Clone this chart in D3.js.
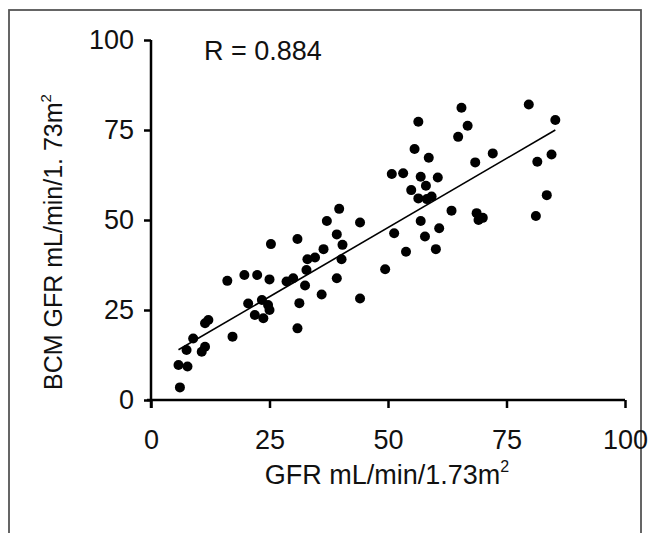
<!DOCTYPE html>
<html><head><meta charset="utf-8">
<script src="https://cdn.jsdelivr.net/npm/d3@7"></script>
<style>
html,body{margin:0;padding:0;background:#fff;}
svg{display:block;}
text{font-family:"Liberation Sans",Arial,sans-serif;fill:#111;}
</style></head>
<body>
<script>
const gfr = [6.1,5.8,7.7,7.5,8.9,10.7,11.4,11.4,12.1,17.2,16.1,19.7,22.4,25.0,20.5,21.9,23.7,23.4,24.7,25.0,25.3,28.6,30.0,30.9,31.3,30.9,32.5,32.8,33.0,34.6,36.4,36.0,37.1,39.7,39.2,40.4,40.2,39.2,44.1,44.1,49.4,50.8,53.2,51.3,53.8,54.9,55.6,56.4,56.4,56.9,56.9,57.8,58.0,58.2,59.2,58.6,60.5,60.8,60.1,63.4,64.8,65.5,66.8,68.4,68.7,70.0,69.1,72.1,79.7,85.3,84.5,81.5,83.5,81.2];
const bcm = [3.5,9.7,9.3,13.9,17.1,13.4,14.8,21.3,22.2,17.6,33.1,34.7,34.7,33.5,26.8,23.6,22.7,27.8,26.4,25.0,43.3,32.9,33.8,44.7,26.9,19.9,31.8,36.1,39.1,39.6,41.9,29.3,49.7,53.1,46.0,43.1,39.1,33.8,49.3,28.2,36.3,62.8,63.0,46.3,41.2,58.3,69.7,77.3,56.0,62.0,49.7,45.4,59.5,55.8,56.5,67.3,61.8,47.7,41.9,52.6,73.1,81.2,76.2,66.0,51.9,50.6,50.0,68.5,82.1,77.8,68.2,66.2,56.9,51.1];
const xTicks = [0,25,50,75,100];
const yTicks = [0,25,50,75,100];
const fitRange = [5.8, 85.3];
const fitSlope = 0.768;
const fitIntercept = 9.5;
const rLabel = "R = 0.884";

const W = 653, H = 533;
const svg = d3.select("body").append("svg").attr("width", W).attr("height", H);

// frame
svg.append("rect").attr("x",9).attr("y",10).attr("width",632).attr("height",560)
  .attr("fill","none").attr("stroke","#555").attr("stroke-width",1.8);

const x = d3.scaleLinear().domain([0,100]).range([151,625]);
const y = d3.scaleLinear().domain([0,100]).range([400,40]);

const fs = 27;

// x axis
const xAxis = svg.append("g").attr("transform","translate(0,400)")
  .call(d3.axisBottom(x).tickValues(xTicks).tickSize(8).tickPadding(22).tickFormat(d3.format("d")));
xAxis.select(".domain").attr("stroke","#000").attr("stroke-width",2.5).attr("d","M"+(x(0)-4)+",0H"+x(100));
xAxis.selectAll(".tick line").attr("stroke","#000").attr("stroke-width",2.5);
xAxis.selectAll(".tick text").attr("font-size",fs).attr("font-family","Liberation Sans, Arial, sans-serif").attr("fill","#111");

// y axis
const yAxis = svg.append("g").attr("transform","translate(151,0)")
  .call(d3.axisLeft(y).tickValues(yTicks).tickSize(7).tickPadding(10).tickFormat(d3.format("d")));
yAxis.select(".domain").attr("stroke","#000").attr("stroke-width",2.5).attr("d","M0,"+y(100)+"V"+(y(0)+8));
yAxis.selectAll(".tick line").attr("stroke","#000").attr("stroke-width",2.5);
yAxis.selectAll(".tick text").attr("font-size",fs).attr("font-family","Liberation Sans, Arial, sans-serif").attr("fill","#111");

// regression line
svg.append("line")
  .attr("x1", x(fitRange[0])).attr("y1", y(fitIntercept + fitSlope*fitRange[0]))
  .attr("x2", x(fitRange[1])).attr("y2", y(fitIntercept + fitSlope*fitRange[1]))
  .attr("stroke","#000").attr("stroke-width",1.6);

// points
svg.append("g").selectAll("circle").data(gfr.map((g,i)=>[g,bcm[i]])).join("circle")
  .attr("cx", d=>x(d[0])).attr("cy", d=>y(d[1])).attr("r",5).attr("fill","#000");

// R label
svg.append("text").attr("x",204).attr("y",60).attr("font-size",fs).text(rLabel);

// x title
const xt = svg.append("text").attr("x",387).attr("y",484).attr("text-anchor","middle").attr("font-size",fs);
xt.append("tspan").text("GFR mL/min/1.73m");
xt.append("tspan").attr("font-size",16).attr("dy",-12).text("2");

// y title
const yt = svg.append("text").attr("transform","translate(62,242) rotate(-90)").attr("text-anchor","middle").attr("font-size",25);
yt.append("tspan").text("BCM GFR mL/min/1. 73m");
yt.append("tspan").attr("font-size",15).attr("dy",-11).text("2");
</script>
</body></html>
